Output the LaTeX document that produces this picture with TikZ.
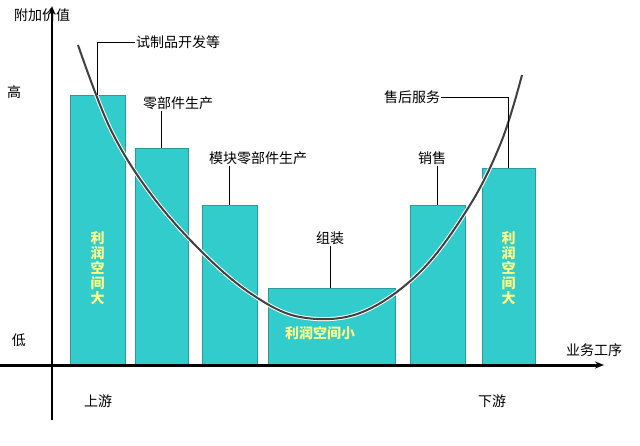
\documentclass[tikz,border=0pt]{standalone}
\usepackage{fontspec}
\setmainfont{Noto Sans CJK SC}
\usetikzlibrary{positioning,arrows.meta}
\definecolor{barfill}{HTML}{33CCCC}
\definecolor{baredge}{HTML}{2A9A9A}
\definecolor{profit}{HTML}{FFFF88}
\begin{document}
\begin{tikzpicture}[x=1pt,y=-1pt,>={Stealth[length=9pt,width=7pt]}]
    \tikzstyle{bar}=[draw=baredge,fill=barfill,inner sep=0pt,line width=0.8pt]
    \tikzstyle{lbl}=[font=\fontsize{14}{16}\selectfont,inner sep=1pt]
    \tikzstyle{gain}=[font=\fontsize{14}{15}\selectfont\bfseries,text=profit,align=center,inner sep=0pt]
    \useasboundingbox (0,0) rectangle (640,445);

    % bars
    \node[bar,minimum width=55,minimum height=270] (b1) at (97.5,230) {};
    \node[bar,minimum width=53,minimum height=217] (b2) at (161.5,256.5) {};
    \node[bar,minimum width=55,minimum height=160] (b3) at (229.5,285) {};
    \node[bar,minimum width=127,minimum height=77] (b4) at (331.5,326.5) {};
    \node[bar,minimum width=55,minimum height=160] (b5) at (437.5,285) {};
    \node[bar,minimum width=53,minimum height=197] (b6) at (508.5,266.5) {};

    % smile curve
    \draw[white,line width=4pt] plot[smooth,tension=0.6] coordinates {(78,45) (110,128) (150,193) (200,250) (250,293) (300,317) (360,313) (420,272) (470,205) (502,140) (522,75)};
    \draw[black!75,line width=2pt] plot[smooth,tension=0.6] coordinates {(78,45) (110,128) (150,193) (200,250) (250,293) (300,317) (360,313) (420,272) (470,205) (502,140) (522,75)};

    % axes
    \node (origin) at (52,365) {};
    \coordinate (ytop) at (52,6);
    \coordinate (ybot) at (52,420);
    \coordinate (xleft) at (0,365);
    \coordinate (xright) at (604,365);
    \draw[->,line width=1.2pt] (ybot) -- (ytop);
    \draw[->,line width=3pt] (xleft) -- (xright);

    % texts in bars
    \node[gain] at (b1.center |- 0,268) {利\\润\\空\\间\\大};
    \node[gain] at (b6.center |- 0,268) {利\\润\\空\\间\\大};
    \node[gain] at (320,333) {利润空间小};

    % labels
    \node[lbl] (l1) at (178,42) {试制品开发等};
    \node[lbl] (l2) at (178,103) {零部件生产};
    \node[lbl] (l3) at (258,158) {模块零部件生产};
    \node[lbl] (l4) at (330,238) {组装};
    \node[lbl] (l5) at (432,158) {销售};
    \node[lbl] (l6) at (412,97) {售后服务};

    \draw (l1.west) -| (b1.north);
    \draw (l2.south -| b2.north) -- (b2.north);
    \draw (l3.south -| b3.north) -- (b3.north);
    \draw (l4.south) -- (l4.south |- b4.north);
    \draw (l5.south -| b5.north) -- (b5.north);
    \draw (l6.east) -| (b6.north);

    % axis texts
    \node[lbl] (yname) at (42,15) {附加价值};
    \node[lbl] (high) at (14,92) {高};
    \node[lbl] (low) at (19,340) {低};
    \node[lbl] (xname) at (594,350) {业务工序};
    \node[lbl] (up) at (98,401) {上游};
    \node[lbl] (down) at (492,401) {下游};
\end{tikzpicture}
\end{document}
